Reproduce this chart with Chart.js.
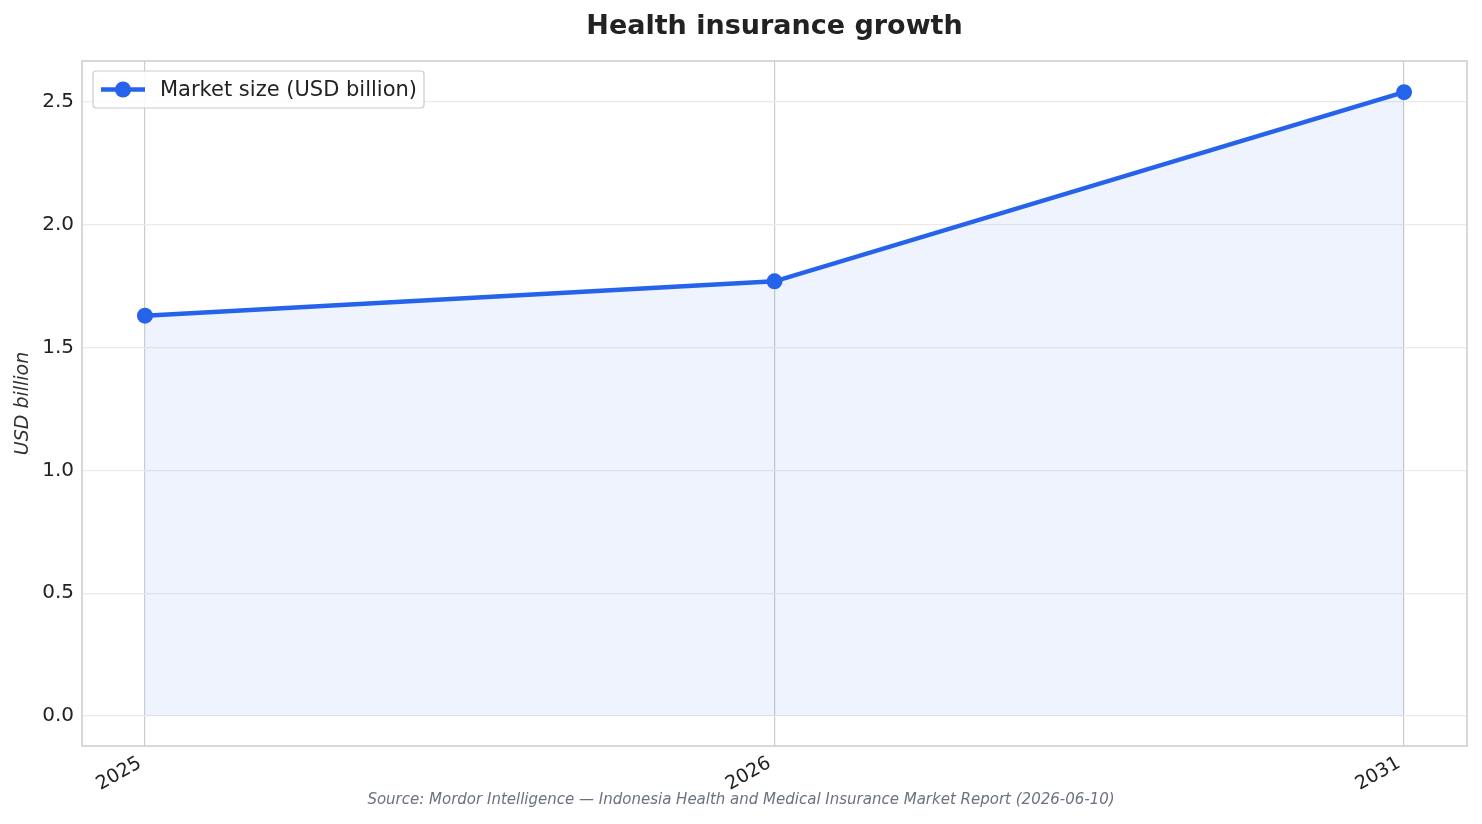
<!DOCTYPE html>
<html>
<head>
<meta charset="utf-8">
<title>Health insurance growth</title>
<script src="https://cdn.jsdelivr.net/npm/chart.js@4"></script>
<style>
  html, body { margin: 0; padding: 0; background: #fff; }
  #wrap { width: 1482px; height: 824px; }
</style>
</head>
<body>
<div id="wrap"><canvas id="growthChart"></canvas></div>
<script>
  // === Data ===
  const years = ['2025', '2026', '2031'];
  const marketSize = [1.63, 1.77, 2.54];
  const yTicks = [0.0, 0.5, 1.0, 1.5, 2.0, 2.5];

  const TITLE = 'Health insurance growth';
  const SOURCE = 'Source: Mordor Intelligence \u2014 Indonesia Health and Medical Insurance Market Report (2026-06-10)';

  const FONT = '"DejaVu Sans", sans-serif';
  const BLUE = '#2563eb';

  // frame round the plot area, title over the plot, source note at the bottom
  const frame = {
    id: 'frame',
    afterDatasetsDraw(chart) {
      const { ctx, chartArea: a } = chart;
      ctx.save();
      ctx.strokeStyle = '#cccccc';
      ctx.lineWidth = 1.5;
      ctx.strokeRect(a.left, a.top, a.right - a.left, a.bottom - a.top);
      ctx.restore();
    },
    afterDraw(chart) {
      const { ctx, chartArea: a } = chart;
      ctx.save();
      ctx.textAlign = 'center';
      ctx.textBaseline = 'middle';
      ctx.fillStyle = '#222222';
      ctx.font = 'bold 27px ' + FONT;
      ctx.fillText(TITLE, (a.left + a.right) / 2, 27);
      ctx.fillStyle = '#6b7280';
      ctx.font = 'italic 15px ' + FONT;
      ctx.fillText(SOURCE, chart.width / 2, 800);
      ctx.restore();
    }
  };

  // legend drawn inside the plot, top left
  const insideLegend = {
    id: 'insideLegend',
    afterDraw(chart) {
      const { ctx, chartArea: a } = chart;
      const ds = chart.data.datasets[0];
      const x = a.left + 11, y = a.top + 10, w = 331, h = 37;
      ctx.save();
      ctx.fillStyle = 'rgba(255,255,255,0.85)';
      ctx.strokeStyle = '#cccccc';
      ctx.lineWidth = 1.2;
      ctx.beginPath();
      ctx.roundRect(x, y, w, h, 3);
      ctx.fill();
      ctx.stroke();
      const cy = y + h / 2;
      ctx.strokeStyle = ds.borderColor;
      ctx.lineWidth = ds.borderWidth;
      ctx.beginPath();
      ctx.moveTo(x + 8, cy);
      ctx.lineTo(x + 52, cy);
      ctx.stroke();
      ctx.fillStyle = ds.pointBackgroundColor;
      ctx.beginPath();
      ctx.arc(x + 30, cy, ds.pointRadius, 0, Math.PI * 2);
      ctx.fill();
      ctx.fillStyle = '#222222';
      ctx.font = '21px ' + FONT;
      ctx.textBaseline = 'middle';
      ctx.fillText(ds.label, x + 67, cy + 1);
      ctx.restore();
    }
  };

  new Chart(document.getElementById('growthChart'), {
    type: 'line',
    data: {
      datasets: [{
        label: 'Market size (USD billion)',
        data: marketSize.map((v, i) => ({ x: i, y: v })),
        borderColor: BLUE,
        borderWidth: 4.5,
        backgroundColor: 'rgba(37, 99, 235, 0.08)',
        fill: 'origin',
        tension: 0,
        pointRadius: 8,
        pointHoverRadius: 8,
        pointBackgroundColor: BLUE,
        pointBorderColor: BLUE,
        pointBorderWidth: 0
      }]
    },
    options: {
      responsive: true,
      maintainAspectRatio: false,
      animation: false,
      layout: { padding: { left: 0, right: 15, top: 61, bottom: 0 } },
      plugins: {
        legend: { display: false },
        tooltip: { enabled: false },
        title: { display: false }
      },
      scales: {
        x: {
          type: 'linear',
          min: -0.1,
          max: 2.1,
          afterBuildTicks: scale => { scale.ticks = years.map((_, i) => ({ value: i })); },
          afterFit: scale => { scale.height = 78; },
          border: { display: false },
          grid: { color: '#cccccc', lineWidth: 1.2, drawTicks: false },
          ticks: {
            callback: v => years[v],
            color: '#222222',
            font: { family: FONT, size: 19 },
            minRotation: 30,
            maxRotation: 30,
            padding: 6,
            labelOffset: -5
          }
        },
        y: {
          min: -0.122,
          max: 2.667,
          afterBuildTicks: scale => { scale.ticks = yTicks.map(v => ({ value: v })); },
          afterFit: scale => { scale.width = 82; },
          border: { display: false },
          grid: { color: '#ebebeb', lineWidth: 1.2, drawTicks: false },
          ticks: {
            callback: v => v.toFixed(1),
            color: '#222222',
            font: { family: FONT, size: 20 },
            padding: 8
          },
          title: {
            display: true,
            text: 'USD billion',
            color: '#333333',
            font: { family: FONT, size: 19, style: 'italic' },
            padding: { top: 12, bottom: 0 }
          }
        }
      }
    },
    plugins: [frame, insideLegend]
  });
</script>
</body>
</html>
